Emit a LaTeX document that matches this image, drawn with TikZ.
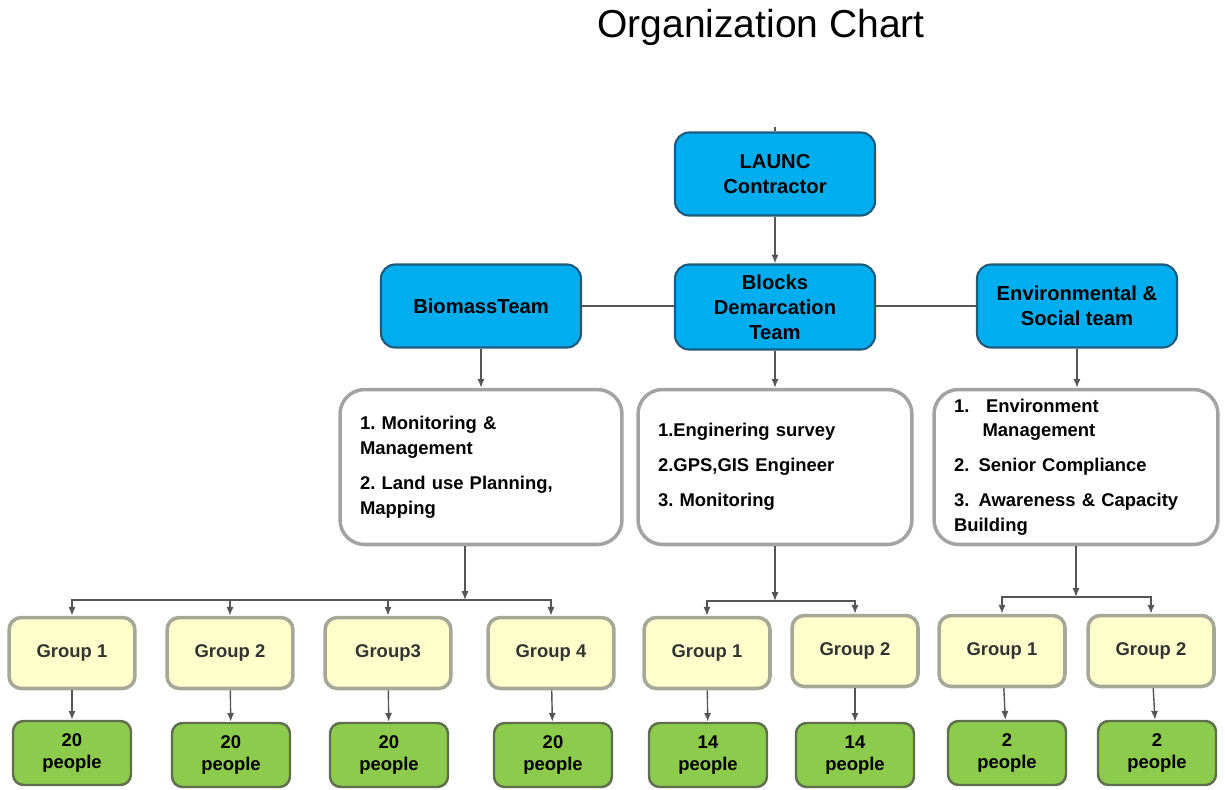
\documentclass[tikz,border=0pt]{standalone}
\usepackage{fontspec}
\setmainfont{Liberation Sans}
\usetikzlibrary{arrows.meta}
\frenchspacing
\definecolor{teamblue}{HTML}{00AEEF}
\definecolor{teamedge}{HTML}{1D5A7E}
\definecolor{listedge}{HTML}{A3A3A3}
\definecolor{groupfill}{HTML}{FFFFCC}
\definecolor{groupedge}{HTML}{A7A797}
\definecolor{peoplefill}{HTML}{8DCB4C}
\definecolor{peopleedge}{HTML}{5F6E4F}
\definecolor{linegray}{HTML}{555555}
\tikzset{
  team/.style={draw=teamedge, line width=1.2pt, fill=teamblue, rounded corners=8pt,
    minimum width=4cm, minimum height=1.66cm, align=center,
    font=\fontsize{11.5}{14.2}\selectfont\bfseries},
  duties/.style={draw=listedge, line width=2pt, fill=white, rounded corners=14pt,
    minimum height=3.1cm, inner sep=0pt, align=left,
    font=\fontsize{10.5}{14.2}\selectfont\bfseries},
  group/.style={draw=groupedge, line width=2pt, fill=groupfill, rounded corners=7pt,
    minimum width=2.52cm, minimum height=1.42cm,
    font=\fontsize{10.5}{13}\selectfont\bfseries, text=black!80},
  people/.style={draw=peopleedge, line width=1.4pt, fill=peoplefill, rounded corners=6pt,
    minimum width=2.36cm, minimum height=1.28cm, align=center,
    font=\fontsize{10.5}{13}\selectfont\bfseries},
  link/.style={draw=linegray, line width=0.8pt},
  >={Latex[length=5pt,width=4pt]}
}
\begin{document}
\begin{tikzpicture}[x=0.02cm, y=-0.02cm]
        \useasboundingbox (0,0) rectangle (1225,789);

        \node (title) at (761,27) {\fontsize{22.2}{26}\selectfont Organization Chart};

        \node (launc)   [team] at (775,174)  {LAUNC\\Contractor};
        \node (biomass) [team] at (481,306)  {BiomassTeam};
        \node (blocks)  [team, minimum height=1.7cm] at (775,307) {Blocks\\Demarcation\\Team};
        \node (envsoc)  [team] at (1077,306) {Environmental \&\\Social team};

        \node (w1) [duties, minimum width=5.64cm, text width=4.84cm] at (481,467)
          {1. Monitoring \&\\Management\\[5.6pt]2. Land use Planning,\\Mapping};
        \node (w2) [duties, minimum width=5.48cm, text width=4.68cm] at (775,467)
          {1.Enginering survey\\[5.6pt]2.GPS,GIS Engineer\\[5.6pt]3. Monitoring};
        \node (w3) [duties, minimum width=5.68cm, text width=4.88cm] at (1076,467)
          {1.\hspace{0.9em}Environment\\\hspace*{1.55em}Management\\[5.6pt]2.\hspace{0.5em}Senior Compliance\\[5.6pt]3.\hspace{0.5em}Awareness \& Capacity\\Building};

        \node (g1) [group] at (72,653)   {Group 1};
        \node (g2) [group] at (230,653)  {Group 2};
        \node (g3) [group] at (388,653)  {Group3};
        \node (g4) [group] at (551,653)  {Group 4};
        \node (g5) [group] at (707,653)  {Group 1};
        \node (g6) [group] at (855,651)  {Group 2};
        \node (g7) [group] at (1002,651) {Group 1};
        \node (g8) [group] at (1151,651) {Group 2};

        \node (p1) [people] at (72,753)   {20\\people};
        \node (p2) [people] at (231,755)  {20\\people};
        \node (p3) [people] at (389,755)  {20\\people};
        \node (p4) [people] at (553,755)  {20\\people};
        \node (p5) [people] at (708,755)  {14\\people};
        \node (p6) [people] at (855,755)  {14\\people};
        \node (p7) [people] at (1007,753) {2\\people};
        \node (p8) [people] at (1157,753) {2\\people};

        \coordinate (tick) at (775,127);
        \coordinate (bus1) at (465,600);
        \coordinate (bus2) at (775,601);
        \coordinate (bus3) at (1076,597);

        \draw [link] (tick) -- (launc.north);
        \draw [link,->] (launc) -- (blocks);
        \draw [link] (biomass) -- (biomass -| blocks.west);
        \draw [link] (envsoc) -- (envsoc -| blocks.east);
        \draw [link,->] (biomass) -- (w1.north -| biomass);
        \draw [link,->] (blocks) -- (w2);
        \draw [link,->] (envsoc) -- (w3.north -| envsoc);

        \draw [link,->] (w1.south -| bus1) -- (bus1);
        \draw [link,->] (w2) -- (bus2);
        \draw [link,->] (w3) -- (bus3);
        \foreach \g in {g1,g2,g3,g4}
          \draw [link,->] (bus1) -| (\g);
        \foreach \g in {g5,g6}
          \draw [link,->] (bus2) -| (\g);
        \foreach \g in {g7,g8}
          \draw [link,->] (bus3) -| (\g);

        \foreach \i in {1,...,8}
          \draw [link,->] (g\i) -- (p\i);
      \end{tikzpicture}
\end{document}
